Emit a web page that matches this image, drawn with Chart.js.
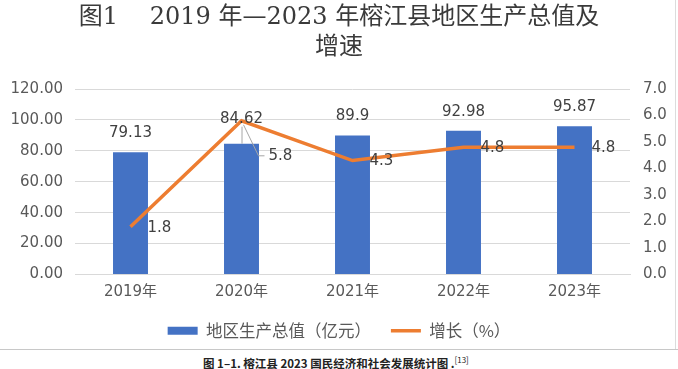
<!DOCTYPE html>
<html>
<head>
<meta charset="utf-8">
<script src="https://cdn.jsdelivr.net/npm/chart.js@4.4.1/dist/chart.umd.min.js"></script>
<style>
  body { margin: 0; background: #fff; }
  #wrap { position: relative; width: 678px; height: 349px; border-bottom: 1px solid #c8c8c8; }
  #edge { position: absolute; left: 675px; top: 0; width: 1px; height: 349px; background: #dcdcdc; }
  #caption {
    position: absolute; top: 354px; left: 203px;
    font: bold 11.5px "Noto Sans CJK SC", sans-serif; color: #222; white-space: nowrap;
  }
  #caption sup { font-size: 8px; font-weight: normal; }
</style>
</head>
<body>
<div id="wrap">
  <canvas id="gdpChart"></canvas>
  <div id="edge"></div>
</div>
<div id="caption">图 1–1. 榕江县 2023 国民经济和社会发展统计图 .<sup>[13]</sup></div>
<script>
const years = ['2019年', '2020年', '2021年', '2022年', '2023年'];
const gdp = [79.13, 84.62, 89.9, 92.98, 95.87];      // 地区生产总值（亿元）
const growth = [1.8, 5.8, 4.3, 4.8, 4.8];           // 增长（%）
const gdpTicks = [0, 20, 40, 60, 80, 100, 120];
const growthTicks = [0, 1, 2, 3, 4, 5, 6, 7];

const labelFont = '15px "DejaVu Sans", "Noto Sans CJK SC"';
const axisColor = '#595959';

// value labels drawn on top of the bars / line points
const valueLabels = {
    id: 'valueLabels',
    afterDatasetsDraw(chart) {
        const ctx = chart.ctx;
        ctx.save();
        ctx.font = labelFont;
        ctx.fillStyle = '#404040';
        ctx.textBaseline = 'middle';
        ctx.strokeStyle = '#a6a6a6';
        ctx.lineWidth = 1;

        chart.getDatasetMeta(0).data.forEach((bar, i) => {
            const lift = i === 1 ? 25 : 19;
            ctx.textAlign = 'center';
            ctx.fillText(String(gdp[i]), bar.x, bar.y - lift);
            if (i === 1) {
                ctx.beginPath();
                ctx.moveTo(bar.x + 0.5, bar.y - lift + 8);
                ctx.lineTo(bar.x + 0.5, bar.y);
                ctx.stroke();
            }
        });

        chart.getDatasetMeta(1).data.forEach((pt, i) => {
            ctx.textAlign = 'left';
            if (i === 1) {
                ctx.beginPath();
                ctx.moveTo(pt.x + 2, pt.y + 4);
                ctx.lineTo(pt.x + 17, pt.y + 35);
                ctx.lineTo(pt.x + 23, pt.y + 35);
                ctx.stroke();
                ctx.fillText(String(growth[i]), pt.x + 27, pt.y + 35);
            } else {
                ctx.fillText(String(growth[i]), pt.x + 17, pt.y + 1);
            }
        });
        ctx.restore();
    }
};

new Chart(document.getElementById('gdpChart'), {
    data: {
        labels: years,
        datasets: [{
            type: 'bar',
            label: '地区生产总值（亿元）',
            data: gdp,
            yAxisID: 'y',
            backgroundColor: '#4472C4',
            borderWidth: 0,
            categoryPercentage: 1,
            barPercentage: 0.315,
            pointStyle: 'rect',
            order: 1
        }, {
            type: 'line',
            label: '增长（%）',
            data: growth,
            yAxisID: 'y1',
            borderColor: '#ED7D31',
            backgroundColor: '#ED7D31',
            borderWidth: 3.5,
            pointRadius: 0,
            pointStyle: 'line',
            tension: 0,
            order: 0
        }]
    },
    options: {
        responsive: true,
        maintainAspectRatio: false,
        animation: false,
        events: [],
        layout: { padding: 0 },
        plugins: {
            title: {
                display: true,
                text: ['图1　 2019 年—2023 年榕江县地区生产总值及', '增速'],
                color: '#3a3a3a',
                font: { family: '"DejaVu Serif", "Noto Sans CJK SC"', size: 24, weight: 'normal', lineHeight: 1.25 },
                padding: { top: 3, bottom: 26 }
            },
            legend: {
                position: 'bottom',
                labels: {
                    usePointStyle: true,
                    pointStyleWidth: 30,
                    boxHeight: 8,
                    padding: 20,
                    color: axisColor,
                    font: { family: '"Noto Sans CJK SC"', size: 16.5 },
                    sort: (a, b) => a.datasetIndex - b.datasetIndex
                }
            },
            tooltip: { enabled: false }
        },
        scales: {
            x: {
                grid: { display: false },
                border: { color: '#d9d9d9' },
                ticks: { color: axisColor, font: { family: '"DejaVu Sans", "Noto Sans CJK SC"', size: 15 }, padding: 1 },
                afterFit: s => { s.height = 28; }
            },
            y: {
                position: 'left',
                min: gdpTicks[0],
                max: gdpTicks[gdpTicks.length - 1],
                ticks: {
                    stepSize: gdpTicks[1] - gdpTicks[0],
                    color: axisColor,
                    font: { family: '"DejaVu Sans"', size: 15 },
                    padding: 12,
                    callback: v => v.toFixed(2)
                },
                grid: { color: '#d9d9d9', drawTicks: false },
                border: { display: false },
                afterFit: s => { s.width = 75; }
            },
            y1: {
                position: 'right',
                min: growthTicks[0],
                max: growthTicks[growthTicks.length - 1],
                ticks: {
                    stepSize: growthTicks[1] - growthTicks[0],
                    color: axisColor,
                    font: { family: '"DejaVu Sans"', size: 15 },
                    padding: 13,
                    callback: v => v.toFixed(1)
                },
                grid: { display: false, drawTicks: false },
                border: { display: false },
                afterFit: s => { s.width = 48; }
            }
        }
    },
    plugins: [valueLabels]
});
</script>
</body>
</html>
